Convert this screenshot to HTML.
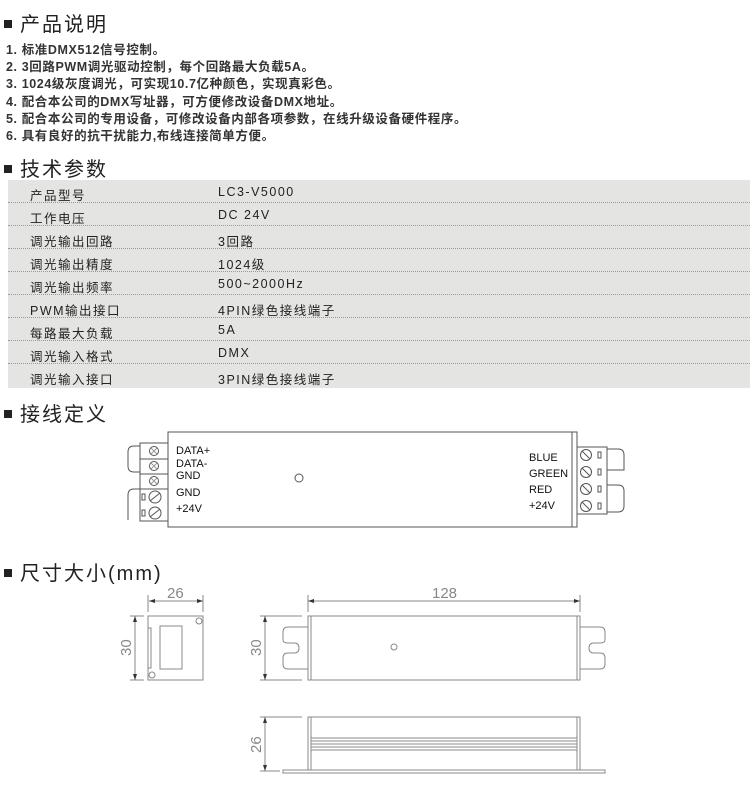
<!DOCTYPE html>
<html><head><meta charset="utf-8"><style>
body{margin:0;background:#fff;width:750px;height:788px;position:relative;overflow:hidden;font-family:"Liberation Sans","Noto Sans CJK SC",sans-serif;color:#222}
.h{position:absolute;left:4px;font-size:20px;letter-spacing:2px}
.h:before{content:"";display:inline-block;width:8px;height:8px;background:#222;margin-right:8px;vertical-align:middle;position:relative;top:-2px}
.l{position:absolute;left:6px;font-size:12.5px;letter-spacing:0.6px;font-weight:bold;color:#333}
.tb{position:absolute;left:8px;top:180px;width:742px;height:208px;background:#e4e4e3}
.r{position:absolute;left:0;width:742px;height:23px;font-size:12.5px;letter-spacing:1.5px}
.r span{position:absolute;top:5px}
.r .a{left:22px}.r .b{left:210px}
.r.s{border-bottom:1px dotted #999;box-sizing:border-box}
</style></head><body>
<div class="h" style="top:8px">产品说明</div>
<div class="l" style="top:39px">1. 标准DMX512信号控制。</div>
<div class="l" style="top:56px">2. 3回路PWM调光驱动控制，每个回路最大负载5A。</div>
<div class="l" style="top:73px">3. 1024级灰度调光，可实现10.7亿种颜色，实现真彩色。</div>
<div class="l" style="top:91px">4. 配合本公司的DMX写址器，可方便修改设备DMX地址。</div>
<div class="l" style="top:108px">5. 配合本公司的专用设备，可修改设备内部各项参数，在线升级设备硬件程序。</div>
<div class="l" style="top:125px">6. 具有良好的抗干扰能力,布线连接简单方便。</div>
<div class="h" style="top:153px">技术参数</div>
<div class="tb">
<div class="r s" style="top:0"><span class="a">产品型号</span><span class="b">LC3-V5000</span></div>
<div class="r s" style="top:23px"><span class="a">工作电压</span><span class="b">DC 24V</span></div>
<div class="r s" style="top:46px"><span class="a">调光输出回路</span><span class="b">3回路</span></div>
<div class="r s" style="top:69px"><span class="a">调光输出精度</span><span class="b">1024级</span></div>
<div class="r s" style="top:92px"><span class="a">调光输出频率</span><span class="b">500~2000Hz</span></div>
<div class="r s" style="top:115px"><span class="a">PWM输出接口</span><span class="b">4PIN绿色接线端子</span></div>
<div class="r s" style="top:138px"><span class="a">每路最大负载</span><span class="b">5A</span></div>
<div class="r s" style="top:161px"><span class="a">调光输入格式</span><span class="b">DMX</span></div>
<div class="r" style="top:184px"><span class="a">调光输入接口</span><span class="b">3PIN绿色接线端子</span></div>
</div>
<div class="h" style="top:398px">接线定义</div>
<div class="h" style="top:557px">尺寸大小(mm)</div>
<svg width="750" height="788" style="position:absolute;left:0;top:0" fill="none" stroke="#555" stroke-width="1">
<rect x="168" y="432" width="409" height="95"/>
<line x1="572" y1="432" x2="572" y2="527"/>
<circle cx="299" cy="478" r="4"/>
<g font-family="Liberation Sans" font-size="11" fill="#111" stroke="none">
<text x="176" y="454">DATA+</text><text x="176" y="467">DATA-</text><text x="176" y="479">GND</text>
<text x="176" y="496">GND</text><text x="176" y="512">+24V</text>
<text x="529" y="461">BLUE</text><text x="529" y="477">GREEN</text><text x="529" y="493">RED</text><text x="529" y="509">+24V</text>
</g>
<rect x="140" y="443" width="28" height="16"/><rect x="140" y="459" width="28" height="15"/><rect x="140" y="474" width="28" height="15"/>
<circle cx="154" cy="451" r="4.5"/><circle cx="154" cy="466" r="4.5"/><circle cx="154" cy="481" r="4.5"/>
<path stroke="#999" d="M151 448 L157 454 M157 448 L151 454 M151 463 L157 469 M157 463 L151 469 M151 478 L157 484 M157 478 L151 484"/>
<path d="M140 446 H134 Q128 446 128 452 V466 Q128 472 134 472 H140"/>
<rect x="140" y="489" width="28" height="32"/>
<circle cx="155" cy="497" r="6"/><circle cx="155" cy="513" r="6"/>
<path d="M150 501 L160 493 M150 517 L160 509"/>
<rect x="142" y="494" width="3" height="6"/><rect x="142" y="510" width="3" height="6"/>
<path d="M140 489 H134 Q128 489 128 495 V520"/>
<rect x="577" y="447" width="30" height="67"/>
<circle cx="586" cy="455" r="5.5"/><circle cx="586" cy="472" r="5.5"/><circle cx="586" cy="489" r="5.5"/><circle cx="586" cy="506" r="5.5"/>
<path d="M582 451 L590 459 M582 468 L590 476 M582 485 L590 493 M582 502 L590 510"/>
<rect x="598" y="452" width="3" height="6"/><rect x="598" y="469" width="3" height="6"/><rect x="598" y="486" width="3" height="6"/><rect x="598" y="503" width="3" height="6"/>
<path d="M607 449 H618 Q624 449 624 455 V470 H607 M607 485 H618 Q624 485 624 491 V506 Q624 512 618 512 H607"/>
<g stroke="#888">
<rect x="148" y="616" width="55" height="64"/>
<rect x="160" y="626" width="22" height="43"/>
<circle cx="199" cy="621" r="3"/><circle cx="152" cy="675" r="3"/>
<path d="M148 628 H151 V668 H148"/>
<line x1="149" y1="601" x2="203" y2="601"/><line x1="148" y1="595" x2="148" y2="612"/><line x1="203" y1="595" x2="203" y2="612"/>
<line x1="135" y1="616" x2="135" y2="680"/><line x1="130" y1="616" x2="144" y2="616"/><line x1="130" y1="680" x2="144" y2="680"/>
<rect x="308" y="616" width="272" height="64"/>
<line x1="311" y1="616" x2="311" y2="680"/><line x1="577" y1="616" x2="577" y2="680"/>
<circle cx="394" cy="647" r="3"/>
<path d="M308 627 H288 Q283 627 283 632 V640 Q283 643 288 643 H294 Q299 643 299 648 Q299 653 294 653 H288 Q283 653 283 658 V664 Q283 669 288 669 H308"/>
<path d="M580 627 H600 Q605 627 605 632 V640 Q605 643 600 643 H594 Q589 643 589 648 Q589 653 594 653 H600 Q605 653 605 658 V664 Q605 669 600 669 H580"/>
<line x1="308" y1="601" x2="580" y2="601"/><line x1="308" y1="595" x2="308" y2="612"/><line x1="580" y1="595" x2="580" y2="612"/>
<line x1="265" y1="616" x2="265" y2="680"/><line x1="260" y1="616" x2="302" y2="616"/><line x1="260" y1="680" x2="302" y2="680"/>
<rect x="308" y="717" width="272" height="53"/>
<line x1="311" y1="717" x2="311" y2="770"/><line x1="577" y1="717" x2="577" y2="770"/>
<path d="M311 738 H577 M311 741 H577 M311 744 H577 M311 747 H577 M311 750 H577"/>
<rect x="283" y="770" width="322" height="3"/>
<line x1="265" y1="717" x2="265" y2="771"/><line x1="260" y1="717" x2="302" y2="717"/><line x1="260" y1="771" x2="280" y2="771"/>
</g>
<g fill="#333" stroke="none">
<path d="M149 601 l6 -2 v4z M203 601 l-6 -2 v4z M135 616 l-2 6 h4z M135 680 l-2 -6 h4z M308 601 l6 -2 v4z M580 601 l-6 -2 v4z M265 616 l-2 6 h4z M265 680 l-2 -6 h4z M265 717 l-2 6 h4z M265 771 l-2 -6 h4z"/>
</g>
<g font-family="Liberation Sans" font-size="15" fill="#888" stroke="none">
<text x="167" y="598">26</text><text x="432" y="598">128</text>
<text transform="translate(131,656) rotate(-90)">30</text>
<text transform="translate(261,656) rotate(-90)">30</text>
<text transform="translate(261,753) rotate(-90)">26</text>
</g>
</svg>
</body></html>
